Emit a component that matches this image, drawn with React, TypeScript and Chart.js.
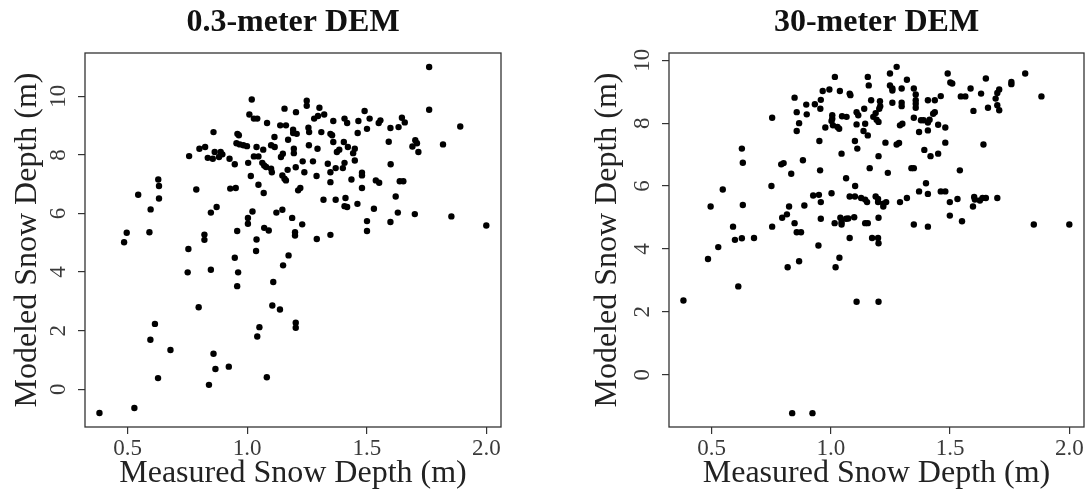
import React, { useEffect, useRef } from "react";
import { Chart, registerables } from "chart.js";

Chart.register(...registerables);

const FONT = "'Liberation Serif', 'Times New Roman', serif";

const xTickValues = [0.5, 1.0, 1.5, 2.0];
const yTickValues = [0, 2, 4, 6, 8, 10];

// 0.3-meter DEM: measured (x) vs modeled (y)
const x03 = [
  1.761, 1.019, 1.249, 1.249, 1.156, 1.302, 1.296, 1.204, 1.761, 1.491, 1.009, 1.028, 1.042, 1.322, 1.28, 1.512,
  1.407, 1.418, 1.36, 1.465, 1.557, 1.55, 1.647, 1.659, 1.083, 1.891, 1.633, 1.599, 1.501, 1.138, 1.162, 1.256,
  1.259, 0.859, 0.959, 0.965, 1.192, 1.192, 1.207, 1.31, 1.348, 1.355, 1.462, 1.114, 1.171, 1.36, 1.404, 1.592,
  1.819, 1.703, 1.71, 1.691, 0.955, 0.969, 0.984, 0.999, 1.039, 1.1, 1.115, 1.258, 1.294, 1.421, 1.45, 0.8,
  0.824, 1.067, 1.195, 1.385, 1.375, 0.864, 0.889, 1.443, 1.195, 1.149, 1.716, 0.896, 0.882, 0.926, 0.757, 0.835,
  0.856, 1.028, 1.047, 1.141, 1.6, 1.004, 0.948, 1.063, 1.071, 1.232, 1.275, 1.337, 1.407, 1.45, 1.37, 1.4,
  1.079, 1.1, 1.103, 1.203, 1.169, 1.239, 1.348, 1.48, 1.48, 1.015, 1.147, 1.156, 1.162, 1.29, 1.436, 1.348,
  1.538, 1.552, 1.638, 1.653, 0.628, 0.631, 1.047, 1.069, 0.929, 0.952, 1.213, 1.222, 1.48, 0.787, 0.544, 0.631,
  1.319, 1.37, 1.411, 1.407, 1.418, 1.461, 1.621, 0.872, 0.596, 1.53, 1.147, 1.122, 1.022, 0.848, 1.63, 1.701,
  1.854, 1.003, 1.003, 1.188, 1.501, 1.599, 1.23, 2.0, 1.071, 1.09, 0.958, 1.501, 1.2, 1.2, 0.496, 0.591,
  0.821, 0.821, 1.348, 1.039, 1.291, 0.485, 0.754, 1.037, 0.948, 1.173, 1.15, 0.848, 0.751, 0.962, 1.109, 0.958,
  0.797, 1.105, 1.137, 0.614, 1.203, 1.203, 1.051, 1.042, 0.595, 0.679, 0.859, 0.867, 0.923, 0.627, 1.082, 0.84,
  0.528, 0.382,
];
const y03 = [
  11.0, 9.89, 9.85, 9.68, 9.58, 9.61, 9.33, 9.46, 9.54, 9.5, 9.38, 9.24, 9.24, 9.38, 9.24, 9.24,
  9.24, 9.09, 9.16, 9.16, 9.18, 9.09, 9.27, 9.11, 9.09, 8.97, 8.95, 8.92, 8.89, 9.01, 9.01, 8.93,
  8.78, 8.78, 8.72, 8.67, 8.86, 8.75, 8.72, 8.78, 8.72, 8.67, 8.75, 8.61, 8.52, 8.44, 8.44, 8.45,
  8.36, 8.5, 8.4, 8.29, 8.4, 8.36, 8.33, 8.3, 8.27, 8.33, 8.27, 8.33, 8.21, 8.27, 8.21, 8.21,
  8.27, 8.18, 8.21, 8.18, 8.1, 8.1, 8.1, 8.06, 8.06, 8.04, 8.1, 8.02, 7.93, 7.87, 7.96, 7.9,
  7.87, 7.95, 7.95, 7.93, 7.68, 7.73, 7.68, 7.73, 7.64, 7.78, 7.78, 7.7, 7.73, 7.81, 7.55, 7.55,
  7.59, 7.53, 7.41, 7.58, 7.49, 7.41, 7.41, 7.39, 7.3, 7.28, 7.3, 7.19, 7.13, 7.28, 7.16, 7.07,
  7.13, 7.05, 7.1, 7.1, 7.16, 6.94, 6.98, 6.7, 6.85, 6.87, 6.79, 6.87, 6.87, 6.82, 6.64, 6.51,
  6.47, 6.47, 6.53, 6.25, 6.22, 6.33, 6.58, 6.22, 6.14, 6.16, 6.13, 6.03, 6.07, 6.03, 6.03, 5.98,
  5.9, 5.85, 5.65, 5.85, 5.74, 5.71, 5.63, 5.59, 5.51, 5.42, 5.4, 5.4, 5.36, 5.25, 5.34, 5.36,
  5.28, 5.1, 5.27, 5.11, 5.13, 5.02, 4.79, 4.72, 4.49, 4.57, 4.23, 4.08, 3.99, 3.99, 3.66, 3.52,
  2.8, 2.86, 2.72, 2.23, 2.27, 2.1, 2.12, 1.8, 1.69, 1.34, 1.21, 0.69, 0.77, 0.38, 0.41, 0.15,
  -0.64, -0.81,
];

// 30-meter DEM: measured (x) vs modeled (y)
const x30 = [
  1.276, 1.248, 1.49, 1.815, 1.017, 1.155, 1.319, 1.65, 1.159, 1.501, 1.509, 1.248, 1.258, 1.258, 1.348, 1.297,
  1.586, 1.757, 1.757, 0.994, 1.038, 0.966, 1.079, 1.082, 1.63, 1.706, 1.698, 1.883, 1.545, 1.564, 1.356, 1.461,
  0.848, 1.691, 1.258, 1.297, 1.297, 1.356, 1.356, 1.356, 1.407, 1.436, 1.169, 1.206, 1.207, 1.203, 1.188, 1.436,
  1.429, 1.659, 1.698, 1.706, 1.598, 0.956, 0.958, 0.897, 0.933, 0.857, 0.899, 1.108, 1.115, 1.14, 1.047, 1.006,
  1.006, 1.066, 1.348, 1.378, 1.389, 1.178, 1.192, 1.2, 1.414, 1.407, 0.754, 0.867, 1.003, 1.009, 1.028, 1.035,
  0.977, 1.108, 1.144, 1.29, 1.3, 1.45, 1.48, 1.407, 0.857, 1.137, 1.37, 1.155, 0.952, 1.101, 1.229, 1.276,
  1.286, 1.48, 1.64, 0.627, 1.111, 1.392, 1.045, 1.45, 1.418, 1.2, 0.631, 0.792, 0.802, 0.883, 1.163, 1.338,
  1.348, 0.955, 1.541, 1.239, 0.834, 1.064, 1.399, 0.751, 1.102, 0.547, 1.003, 1.37, 1.407, 1.461, 1.48, 0.926,
  0.95, 1.079, 1.101, 1.127, 1.144, 1.188, 1.198, 1.319, 1.531, 1.601, 1.604, 1.625, 1.636, 1.65, 1.698, 0.958,
  1.152, 1.198, 1.22, 1.232, 1.29, 1.499, 0.496, 0.631, 0.889, 0.825, 1.596, 1.22, 0.816, 0.796, 0.848, 0.958,
  1.016, 1.04, 1.045, 1.045, 1.064, 1.073, 1.098, 1.144, 1.155, 1.2, 1.499, 1.55, 1.348, 1.407, 1.851, 2.0,
  0.59, 0.754, 0.857, 0.875, 0.598, 0.627, 0.678, 1.079, 1.173, 1.198, 1.2, 0.528, 0.948, 1.036, 0.485, 0.867,
  0.819, 1.02, 0.612, 0.382, 1.108, 1.2, 0.838, 0.923,
];
const y30 = [
  9.79, 9.58, 9.58, 9.58, 9.47, 9.47, 9.38, 9.42, 9.2, 9.29, 9.26, 9.2, 9.1, 9.04, 9.1, 9.1,
  9.1, 9.31, 9.24, 9.07, 9.02, 9.02, 8.94, 8.89, 8.94, 9.07, 8.96, 8.85, 8.85, 8.85, 8.91, 8.86,
  8.81, 8.78, 8.65, 8.65, 8.54, 8.73, 8.62, 8.49, 8.73, 8.73, 8.73, 8.7, 8.54, 8.46, 8.32, 8.35,
  8.3, 8.49, 8.57, 8.41, 8.39, 8.46, 8.74, 8.59, 8.6, 8.35, 8.28, 8.35, 8.25, 8.46, 8.22, 8.25,
  8.14, 8.2, 8.17, 8.09, 8.09, 8.2, 8.11, 8.04, 8.11, 8.02, 8.17, 8.0, 8.07, 7.93, 7.88, 7.82,
  7.86, 7.96, 7.98, 7.93, 7.98, 7.95, 7.86, 7.77, 7.75, 7.75, 7.72, 7.61, 7.43, 7.43, 7.38, 7.32,
  7.37, 7.38, 7.32, 7.19, 7.19, 7.15, 7.03, 7.03, 6.95, 6.95, 6.74, 6.69, 6.73, 6.82, 6.57, 6.57,
  6.57, 6.5, 6.5, 6.42, 6.39, 6.25, 6.09, 6.0, 6.0, 5.89, 5.77, 5.83, 5.75, 5.83, 5.83, 5.7,
  5.72, 5.67, 5.67, 5.62, 5.57, 5.67, 5.59, 5.62, 5.59, 5.65, 5.57, 5.54, 5.62, 5.62, 5.62, 5.49,
  5.49, 5.49, 5.44, 5.49, 5.49, 5.49, 5.35, 5.4, 5.38, 5.35, 5.35, 5.35, 5.1, 4.99, 4.82, 4.96,
  4.82, 4.99, 4.85, 4.78, 4.96, 4.97, 5.01, 4.82, 4.82, 4.99, 5.06, 4.88, 4.78, 4.71, 4.78, 4.78,
  4.71, 4.71, 4.53, 4.53, 4.29, 4.34, 4.35, 4.35, 4.35, 4.35, 4.18, 4.06, 4.11, 3.72, 3.68, 3.61,
  3.42, 3.42, 2.81, 2.36, 2.32, 2.32, -1.22, -1.22,
];

const boxPlugin = {
  id: "plotBox",
  afterDraw(chart: any) {
    const { ctx, chartArea } = chart;
    const { left, top, right, bottom } = chartArea;
    ctx.save();
    ctx.strokeStyle = "#333";
    ctx.lineWidth = 1.3;
    ctx.strokeRect(left, top, right - left, bottom - top);
    ctx.restore();
  },
};

type PanelProps = {
  title: string;
  xs: number[];
  ys: number[];
  yMin: number;
  yMax: number;
  padLeft: number;
  padRight: number;
  yAxisWidth: number;
  left: number;
};

function Panel(p: PanelProps) {
  const ref = useRef<HTMLCanvasElement | null>(null);
  useEffect(() => {
    if (!ref.current) return;
    const points = p.xs.map((x, i) => ({ x, y: p.ys[i] }));
    const chart = new Chart(ref.current, {
      type: "scatter",
      data: {
        datasets: [
          {
            data: points,
            backgroundColor: "#000",
            borderWidth: 0,
            pointRadius: 3.2,
            pointHoverRadius: 3.2,
          },
        ],
      },
      options: {
        animation: false,
        responsive: false,
        devicePixelRatio: 1,
        layout: { padding: { left: p.padLeft, right: p.padRight, top: 0, bottom: 0 } },
        plugins: {
          legend: { display: false },
          tooltip: { enabled: false },
          title: {
            display: true,
            text: p.title,
            fullSize: false,
            color: "#111",
            font: { family: FONT, size: 32, weight: "bold" },
            padding: { top: 4, bottom: 10.6 },
          },
        },
        scales: {
          x: {
            type: "linear",
            position: "bottom",
            min: 0.3215,
            max: 2.0615,
            afterBuildTicks: (s: any) => {
              s.ticks = xTickValues.map((v) => ({ value: v }));
            },
            afterFit: (s: any) => {
              s.height = 72;
            },
            border: { display: false },
            grid: { drawOnChartArea: false, drawTicks: true, tickLength: 7, color: "#333", lineWidth: 1.2 },
            ticks: {
              autoSkip: false,
              maxRotation: 0,
              padding: 1,
              color: "#3a3a3a",
              font: { family: FONT, size: 23 },
              callback: (v: any) => Number(v).toFixed(1),
            },
            title: {
              display: true,
              text: "Measured Snow Depth (m)",
              color: "#222",
              font: { family: FONT, size: 32 },
              padding: { top: 0, bottom: 6 },
            },
          },
          y: {
            type: "linear",
            position: "left",
            min: p.yMin,
            max: p.yMax,
            afterBuildTicks: (s: any) => {
              s.ticks = yTickValues.map((v) => ({ value: v }));
            },
            afterFit: (s: any) => {
              s.width = p.yAxisWidth;
            },
            border: { display: false },
            grid: { drawOnChartArea: false, drawTicks: true, tickLength: 7, color: "#333", lineWidth: 1.2 },
            ticks: {
              autoSkip: false,
              minRotation: 90,
              maxRotation: 90,
              crossAlign: "center",
              padding: 8,
              color: "#3a3a3a",
              font: { family: FONT, size: 23 },
              callback: (v: any) => String(v),
            },
            title: {
              display: true,
              text: "Modeled Snow Depth (m)",
              color: "#222",
              font: { family: FONT, size: 32 },
              padding: { top: 8, bottom: 0 },
            },
          },
        },
      },
      plugins: [boxPlugin],
    } as any);
    return () => chart.destroy();
  }, []);
  return (
    <canvas
      ref={ref}
      width={544}
      height={499}
      style={{ position: "absolute", left: p.left, top: 0, width: 544, height: 499 }}
    />
  );
}

export default function App() {
  return (
    <div style={{ position: "fixed", left: 0, top: 0, width: 1088, height: 499, background: "#fff" }}>
      <Panel title="0.3-meter DEM" xs={x03} ys={y03} yMin={-1.29} yMax={11.48} padLeft={0} padRight={43} yAxisWidth={85} left={0} />
      <Panel title="30-meter DEM" xs={x30} ys={y30} yMin={-1.66} yMax={10.23} padLeft={36} padRight={4} yAxisWidth={89} left={544} />
    </div>
  );
}
